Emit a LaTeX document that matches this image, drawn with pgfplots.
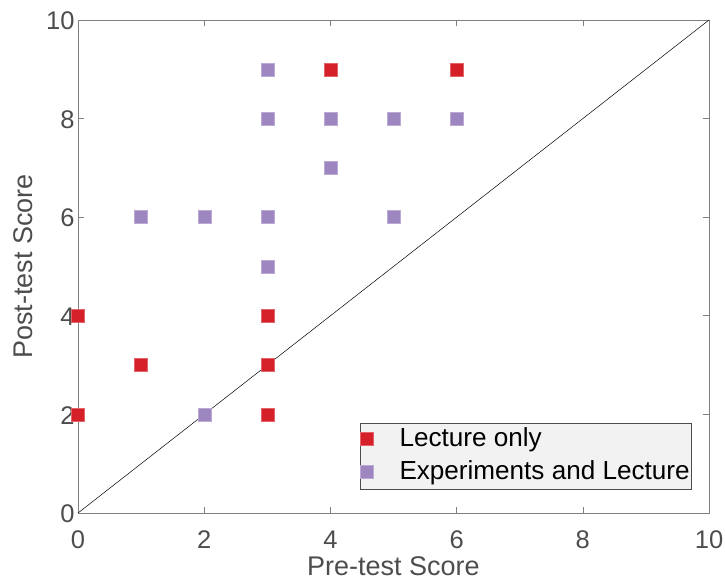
\documentclass[border=0pt]{standalone}
\usepackage{pgfplots}
\pgfplotsset{compat=1.18}
\usepackage{fontspec}
\setmainfont{Liberation Sans}
\definecolor{cred}{HTML}{D62029}
\definecolor{cpurple}{HTML}{9E86C0}
\definecolor{axgray}{HTML}{808080}
\definecolor{txtgray}{HTML}{4D4D4D}
\begin{document}
\begin{tikzpicture}
\begin{axis}[
  at={(0,0)}, anchor=south west,
  scale only axis,
  width=631bp, height=493bp,
  xmin=0, xmax=10, ymin=0, ymax=10,
  xtick={0,2,...,10}, ytick={0,2,...,10},
  tick align=inside,
  major tick length=6bp,
  axis line style={axgray, line width=0.8bp},
  tick style={axgray, line width=0.6bp},
  every tick label/.style={font=\fontsize{25.5bp}{28bp}\selectfont, text=txtgray},
  /pgf/number format/assume math mode=true,
  xticklabel style={anchor=base, yshift=-35bp},
  yticklabel style={anchor=east, xshift=0bp, yshift=-1bp},
  xlabel={Pre-test Score},
  ylabel={Post-test Score},
  label style={font=\fontsize{27bp}{30bp}\selectfont, text=txtgray},
  xlabel style={at={(axis description cs:0.5,0)}, anchor=base, yshift=-62bp},
  ylabel style={at={(axis description cs:0,0.5)}, anchor=base, yshift=45bp},
  legend style={
    at={(rel axis cs:0.973,0.0467)}, anchor=south east,
    fill=black!5, draw=black!70, line width=0.6bp,
    font=\fontsize{26.1bp}{30bp}\selectfont,
    inner xsep=0bp, inner ysep=2bp,
    row sep=4bp, column sep=24bp,
    nodes={inner sep=2bp, text height=19bp, text depth=6bp},
    legend cell align=left,
  },
  legend image post style={xshift=6bp, yshift=1bp},
]
\addplot[only marks, mark=square*, mark size=6.5bp, draw=none, mark options={fill=cred, draw=cred!70!white, line width=0.4bp}]
coordinates {(0,2) (0,4) (1,3) (3,2) (3,3) (3,4) (4,9) (6,9)};
\addlegendentry{Lecture only}
\addplot[only marks, mark=square*, mark size=6.5bp, draw=none, mark options={fill=cpurple, draw=cpurple!70!white, line width=0.4bp}]
coordinates {(1,6) (2,6) (2,2) (3,5) (3,6) (3,8) (3,9) (4,7) (4,8) (5,8) (5,6) (6,8)};
\addlegendentry{Experiments and Lecture}
\addplot[black, line width=0.5bp, forget plot] coordinates {(0,0) (10,10)};
\end{axis}
\pgfresetboundingbox
\path[use as bounding box] (-78bp,-70bp) rectangle (647bp,513bp);
\end{tikzpicture}
\end{document}
